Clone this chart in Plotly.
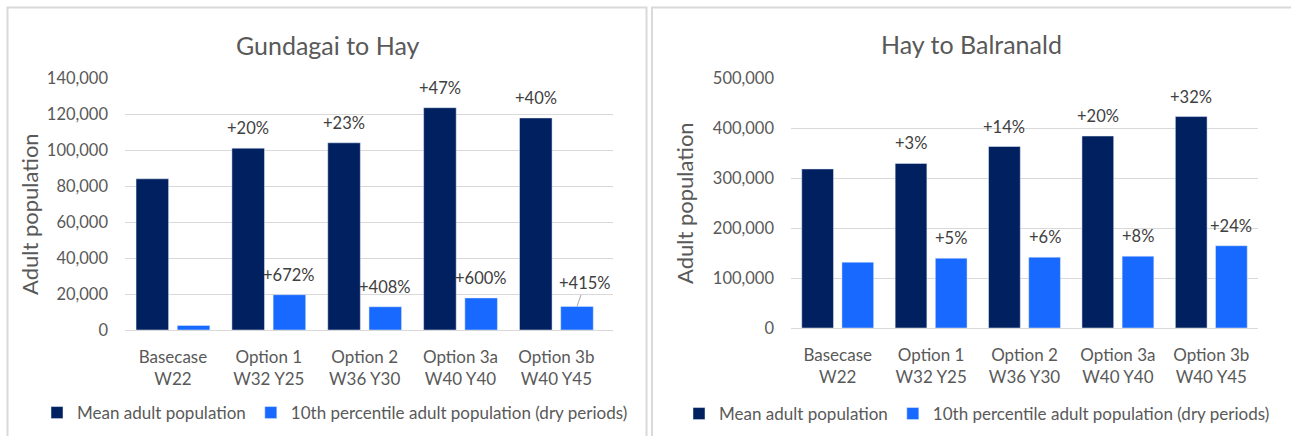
import plotly.graph_objects as go

W, H = 1291, 436

categories = ["Basecase<br>W22", "Option 1<br>W32 Y25", "Option 2<br>W36 Y30",
              "Option 3a<br>W40 Y40", "Option 3b<br>W40 Y45"]

# Gundagai to Hay
gh_mean = [84000, 101000, 104000, 123500, 117800]
gh_p10 = [2540, 19600, 12900, 17800, 13100]
gh_mean_lbl = ["", "+20%", "+23%", "+47%", "+40%"]
gh_p10_lbl = ["", "+672%", "+408%", "+600%", "+415%"]

# Hay to Balranald
hb_mean = [319000, 330000, 364000, 385000, 424000]
hb_p10 = [132000, 140000, 142000, 144000, 165000]
hb_mean_lbl = ["", "+3%", "+14%", "+20%", "+32%"]
hb_p10_lbl = ["", "+5%", "+6%", "+8%", "+24%"]

series_names = ["Mean adult population", "10th percentile adult population (dry periods)"]
titles = ["Gundagai to Hay", "Hay to Balranald"]
y_title = "Adult population"

DARK = "#002060"
LIGHT = "#1769ff"
GRID = "#d9d9d9"
TXT = "#595959"
LBL = "#404040"
FONT = "Lato, Open Sans, sans-serif"

BARGAP = 0.14
BARGROUPGAP = 0.21


def px(x):
    return x / W


def py(y):
    return 1 - y / H


fig = go.Figure()

fig.add_trace(go.Bar(x=categories, y=gh_mean, name=series_names[0], marker_color=DARK,
                     xaxis="x", yaxis="y", legend="legend"))
fig.add_trace(go.Bar(x=categories, y=gh_p10, name=series_names[1], marker_color=LIGHT,
                     xaxis="x", yaxis="y", legend="legend"))
fig.add_trace(go.Bar(x=categories, y=hb_mean, name=series_names[0], marker_color=DARK,
                     xaxis="x2", yaxis="y2", legend="legend2"))
fig.add_trace(go.Bar(x=categories, y=hb_p10, name=series_names[1], marker_color=LIGHT,
                     xaxis="x2", yaxis="y2", legend="legend2"))

LBLFONT = dict(size=16.5, color=LBL, family=FONT)

annotations = []
off = (1 - BARGAP) / 4.0
for xr, yr, means, p10s, mlbl, plbl in [
    ("x", "y", gh_mean, gh_p10, gh_mean_lbl, gh_p10_lbl),
    ("x2", "y2", hb_mean, hb_p10, hb_mean_lbl, hb_p10_lbl),
]:
    for i in range(len(categories)):
        if mlbl[i]:
            annotations.append(dict(x=i - off, y=means[i], xref=xr, yref=yr, text=mlbl[i],
                                    showarrow=False, xanchor="center", yanchor="middle",
                                    yshift=20, font=LBLFONT))
        if plbl[i]:
            if plbl[i] == "+415%":
                annotations.append(dict(x=i + off, y=p10s[i], xref=xr, yref=yr, text=plbl[i],
                                        showarrow=True, arrowhead=0, arrowwidth=1,
                                        arrowcolor="#a6a6a6", ax=8, ay=-23, standoff=0,
                                        font=LBLFONT))
            else:
                annotations.append(dict(x=i + off, y=p10s[i], xref=xr, yref=yr, text=plbl[i],
                                        showarrow=False, xanchor="center", yanchor="middle",
                                        yshift=20, font=LBLFONT))

# titles
annotations.append(dict(x=px(328), y=py(45), xref="paper", yref="paper", text=titles[0],
                        xanchor="center", yanchor="middle", showarrow=False,
                        font=dict(size=25, color=TXT, family=FONT)))
annotations.append(dict(x=px(972), y=py(44), xref="paper", yref="paper", text=titles[1],
                        xanchor="center", yanchor="middle", showarrow=False,
                        font=dict(size=25, color=TXT, family=FONT)))
# y titles
annotations.append(dict(x=px(29), y=py(214), xref="paper", yref="paper", text=y_title,
                        xanchor="center", yanchor="middle", textangle=-90, showarrow=False,
                        font=dict(size=22, color=TXT, family=FONT)))
annotations.append(dict(x=px(685), y=py(203), xref="paper", yref="paper", text=y_title,
                        xanchor="center", yanchor="middle", textangle=-90, showarrow=False,
                        font=dict(size=22, color=TXT, family=FONT)))

axis_common = dict(showgrid=False, showline=False, ticks="", zeroline=False, automargin=False,
                   tickfont=dict(size=17, color=TXT, family=FONT))
yaxis_common = dict(showgrid=True, gridcolor=GRID, gridwidth=1, zeroline=True,
                    zerolinecolor=GRID, zerolinewidth=1, showline=False, ticks="",
                    automargin=False, tickformat=",",
                    tickfont=dict(size=16.5, color=TXT, family=FONT))

LEGFONT = dict(size=17, color=TXT, family=FONT)

fig.update_layout(
    width=W, height=H,
    margin=dict(l=0, r=0, t=0, b=0, autoexpand=False),
    paper_bgcolor="white", plot_bgcolor="white",
    barmode="group", bargap=BARGAP, bargroupgap=BARGROUPGAP,
    font=dict(family=FONT, color=TXT),
    xaxis=dict(domain=[px(125), px(613)], anchor="y", ticklabelstandoff=15, **axis_common),
    yaxis=dict(domain=[py(330), py(78)], anchor="x", range=[0, 140000], dtick=20000,
               ticklabelstandoff=16, **yaxis_common),
    xaxis2=dict(domain=[px(791), px(1258)], anchor="y2", ticklabelstandoff=15, **axis_common),
    yaxis2=dict(domain=[py(328), py(78.7)], anchor="x2", range=[0, 500000], dtick=100000,
                ticklabelstandoff=16, **yaxis_common),
    legend=dict(orientation="h", x=px(335), y=py(413), xanchor="center", yanchor="middle",
                font=LEGFONT, itemwidth=30, bgcolor="rgba(0,0,0,0)"),
    legend2=dict(orientation="h", x=px(977), y=py(414), xanchor="center", yanchor="middle",
                 font=LEGFONT, itemwidth=30, bgcolor="rgba(0,0,0,0)"),
    annotations=annotations,
    shapes=[
        dict(type="rect", xref="paper", yref="paper", x0=px(7.5), x1=px(646.5),
             y0=-0.1, y1=py(7.5), line=dict(color=GRID, width=2), layer="below"),
        dict(type="rect", xref="paper", yref="paper", x0=px(652), x1=1.1,
             y0=-0.1, y1=py(7.5), line=dict(color=GRID, width=2), layer="below"),
    ],
)

fig.write_html("out.html")
